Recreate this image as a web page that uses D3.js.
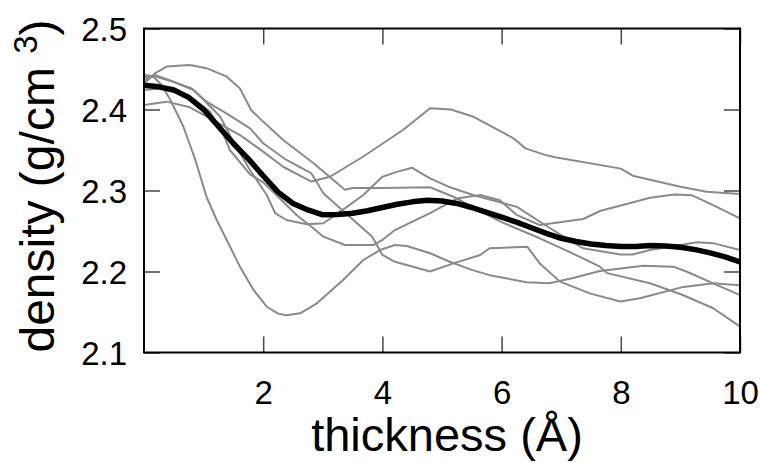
<!DOCTYPE html>
<html><head><meta charset="utf-8">
<script src="https://cdn.jsdelivr.net/npm/d3@7"></script>
<style>html,body{margin:0;padding:0;background:#fff;}svg{display:block;}</style>
</head><body>
<script>
const xTicks = [2, 4, 6, 8, 10];
const yTicks = [2.1, 2.2, 2.3, 2.4, 2.5];

const meanLine = [[0,2.430],[0.25,2.428],[0.5,2.424],[0.75,2.415],[1.0,2.400],[1.25,2.379],[1.5,2.358],[1.75,2.339],[2.0,2.318],[2.25,2.298],[2.5,2.284],[2.75,2.276],[3.0,2.270],[3.25,2.2705],[3.5,2.272],[3.75,2.275],[4.0,2.279],[4.25,2.283],[4.5,2.286],[4.75,2.288],[5.0,2.287],[5.25,2.284],[5.5,2.279],[5.75,2.273],[6.0,2.267],[6.25,2.261],[6.5,2.254],[6.75,2.247],[7.0,2.241],[7.25,2.237],[7.5,2.234],[7.75,2.232],[8.0,2.231],[8.25,2.231],[8.5,2.232],[8.75,2.2315],[9.0,2.230],[9.25,2.227],[9.5,2.223],[9.75,2.218],[10,2.212]];

const runA = [[0,2.440],[0.16,2.4405],[0.3,2.43],[0.44,2.412],[0.66,2.379],[0.86,2.338],[1.05,2.292],[1.22,2.2636],[1.61,2.206],[1.84,2.177],[2.06,2.1565],[2.25,2.148],[2.39,2.146],[2.62,2.1484],[2.9,2.1607],[3.34,2.1895],[3.68,2.2142],[3.96,2.2265],[4.21,2.2327],[4.41,2.2315],[4.8,2.2225],[5.13,2.212],[5.5,2.202],[5.8,2.1955],[6.42,2.1867],[6.8,2.1854],[7.2,2.192],[7.65,2.2006],[8.38,2.2072],[8.88,2.206],[9.1,2.2],[9.55,2.1854],[10,2.171]];

const runB = [[0,2.4056],[0.38,2.4097],[0.77,2.4027],[1.16,2.387],[1.61,2.3685],[2.0,2.348],[2.34,2.329],[2.81,2.311],[3.12,2.317],[3.68,2.342],[4.35,2.375],[4.8,2.4015],[5.15,2.40],[5.53,2.391],[6.2,2.3644],[6.4,2.352],[6.73,2.344],[6.9,2.341],[8.0,2.327],[8.2,2.3183],[9.0,2.3047],[9.44,2.2985],[10,2.2957]];

const runC = [[0,2.432],[0.19,2.445],[0.38,2.453],[0.77,2.455],[1.05,2.451],[1.39,2.4405],[1.61,2.426],[1.8,2.399],[2.0,2.385],[2.34,2.362],[2.84,2.334],[3.37,2.301],[3.5,2.303],[4.0,2.303],[4.8,2.304],[5.2,2.292],[5.6,2.276],[6.0,2.261],[6.64,2.241],[7.2,2.222],[7.65,2.206],[7.77,2.198],[8.49,2.1855],[9.04,2.171],[9.55,2.1546],[10,2.132]];

const runD = [[0,2.4426],[0.21,2.4405],[0.49,2.4343],[0.8,2.426],[1.05,2.4097],[1.39,2.395],[1.78,2.3768],[2.0,2.3583],[2.39,2.3377],[2.81,2.321],[3.01,2.2965],[3.29,2.278],[3.83,2.243],[4.0,2.2204],[4.21,2.212],[4.8,2.2],[5.19,2.21],[5.64,2.2204],[5.8,2.2287],[6.43,2.2306],[6.64,2.21],[6.98,2.1875],[7.48,2.173],[7.99,2.163],[8.32,2.167],[9.05,2.181],[9.55,2.1854],[10,2.183]];

const runE = [[0,2.436],[0.18,2.4426],[0.44,2.436],[0.83,2.424],[1.0,2.412],[1.28,2.391],[1.5,2.36],[1.78,2.325],[2.06,2.2944],[2.2,2.272],[2.39,2.2636],[2.73,2.2583],[3.01,2.2595],[3.37,2.278],[3.68,2.2944],[4.0,2.317],[4.24,2.323],[4.5,2.328],[4.8,2.315],[5.1,2.305],[5.52,2.2944],[6.25,2.28],[6.73,2.2574],[7.0,2.245],[7.37,2.2286],[7.99,2.221],[8.2,2.221],[8.49,2.2265],[9.28,2.236],[9.55,2.235],[10,2.2265]];

const runF = [[0,2.424],[0.3,2.426],[0.6,2.42],[0.9,2.408],[1.1,2.398],[1.33,2.37],[1.44,2.35],[1.78,2.32],[2.0,2.31],[2.22,2.2944],[2.56,2.2697],[2.84,2.2533],[3.01,2.243],[3.37,2.2327],[3.85,2.2327],[4.0,2.239],[4.21,2.2512],[4.8,2.272],[5.25,2.29],[5.64,2.2944],[5.97,2.288],[6.25,2.27],[6.64,2.2574],[7.37,2.2648],[7.65,2.2747],[8.49,2.291],[8.9,2.295],[9.2,2.294],[9.6,2.28],[10,2.2657]];

const greyRuns = [runA, runB, runC, runD, runE, runF];

const W = 761, H = 463;
const m = {left: 144, right: 21, top: 28.5, bottom: 110.5};
const iw = W - m.left - m.right, ih = H - m.top - m.bottom;

const svg = d3.select("body").append("svg").attr("width", W).attr("height", H);
const x = d3.scaleLinear().domain([0, 10]).range([m.left, m.left + iw]);
const y = d3.scaleLinear().domain([2.1, 2.5]).range([m.top + ih, m.top]);

const line = d3.line().x(d => x(d[0])).y(d => y(d[1])).curve(d3.curveLinear);

svg.append("clipPath").attr("id","clip").append("rect")
  .attr("x", m.left).attr("y", m.top).attr("width", iw).attr("height", ih);

const g = svg.append("g").attr("clip-path","url(#clip)");
g.selectAll("path.grey").data(greyRuns).join("path")
  .attr("class","grey").attr("d", line)
  .attr("fill","none").attr("stroke","#8a8a8a").attr("stroke-width",2)
  .attr("stroke-linejoin","round");
g.append("path").datum(meanLine).attr("d", line)
  .attr("fill","none").attr("stroke","#000").attr("stroke-width",5.5)
  .attr("stroke-linejoin","round");

const tickLen = 16;
const font = "'Liberation Sans', Arial, Helvetica, sans-serif";
const axB = svg.append("g").attr("transform",`translate(0,${m.top+ih})`)
  .call(d3.axisBottom(x).tickValues(xTicks).tickSize(-tickLen).tickPadding(28).tickFormat(d3.format("d")));
const axT = svg.append("g").attr("transform",`translate(0,${m.top})`)
  .call(d3.axisTop(x).tickValues(xTicks).tickSize(-tickLen).tickFormat(""));
const axL = svg.append("g").attr("transform",`translate(${m.left},0)`)
  .call(d3.axisLeft(y).tickValues(yTicks).tickSize(-tickLen).tickPadding(17).tickFormat(d3.format(".1f")));
const axR = svg.append("g").attr("transform",`translate(${m.left+iw},0)`)
  .call(d3.axisRight(y).tickValues(yTicks).tickSize(-tickLen).tickFormat(""));
[axB, axT, axL, axR].forEach(a => {
  a.select(".domain").remove();
  a.selectAll(".tick line").attr("stroke","#444").attr("stroke-width",1.5);
  a.selectAll("text").attr("font-family", font).attr("font-size", 33).attr("fill","#000");
});
axL.selectAll("text").attr("dy","0.36em");

svg.append("rect").attr("x", m.left).attr("y", m.top).attr("width", iw).attr("height", ih)
  .attr("fill","none").attr("stroke","#000").attr("stroke-width",2);

svg.append("text").attr("x", 447).attr("y", 451)
  .attr("text-anchor","middle").attr("font-family", font).attr("font-size", 47)
  .text("thickness (Å)");

const yl = svg.append("text").attr("transform", `translate(54,186) rotate(-90)`)
  .attr("text-anchor","middle").attr("font-family", font).attr("font-size", 48);
yl.append("tspan").text("density (g/cm ");
yl.append("tspan").attr("dy", -17).attr("font-size", 33).text("3");
yl.append("tspan").attr("dy", 17).text(")");
</script>
</body></html>
